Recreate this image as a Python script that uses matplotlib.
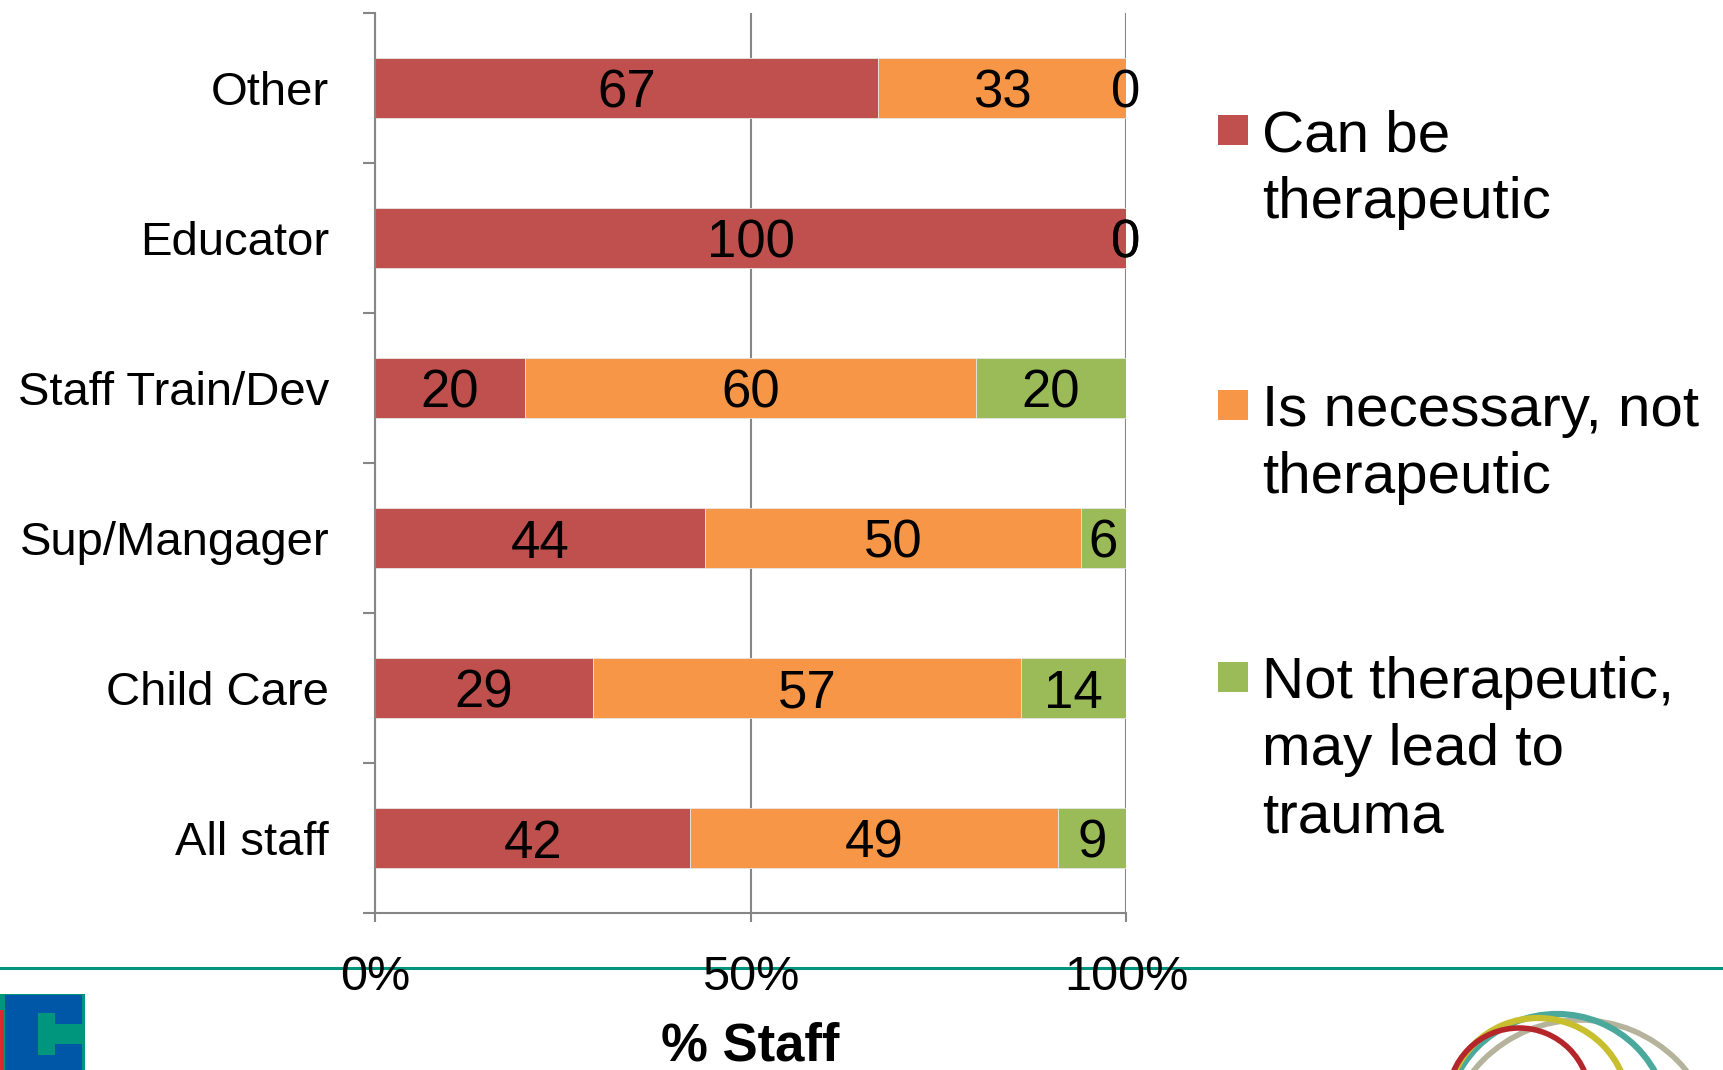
import numpy as np
import matplotlib.pyplot as plt
from matplotlib.patches import Rectangle, Arc

plt.rcParams['font.family'] = ['Liberation Sans', 'DejaVu Sans']

# data (top to bottom)
groups = ['Other', 'Educator', 'Staff Train/Dev', 'Sup/Mangager', 'Child Care', 'All staff']
can_be = [67, 100, 20, 44, 29, 42]
necessary = [33, 0, 60, 50, 57, 49]
not_ther = [0, 0, 20, 6, 14, 9]
series_names = ['Can be\ntherapeutic', 'Is necessary, not\ntherapeutic',
                'Not therapeutic,\nmay lead to\ntrauma']
colors = ['#C0504D', '#F79646', '#9BBB59']
xticks = [0, 50, 100]
xtick_labels = ['0%', '50%', '100%']

W, H = 1723, 1070
fig = plt.figure(figsize=(W / 100, H / 100), dpi=100)

# page decoration: green rule and logo bits, in pixel coords
deco = fig.add_axes([0, 0, 1, 1], zorder=-1)
deco.set_xlim(0, W)
deco.set_ylim(H, 0)
deco.axis('off')
deco.plot([0, W], [968, 968], color='#00937d', lw=2.2)
# left logo (cut off by the page edge)
deco.add_patch(Rectangle((0, 994), 85, 80, color='#00957d', lw=0))
deco.add_patch(Rectangle((5, 995), 77, 80, color='#0057a8', lw=0))
deco.add_patch(Rectangle((38, 1013), 17, 42, color='#00957d', lw=0))
deco.add_patch(Rectangle((55, 1024), 28, 20, color='#00957d', lw=0))
deco.add_patch(Rectangle((0, 1010), 4, 60, color='#e0262e', lw=0))
# right logo arcs
for cx, cy, r, c, lw in [(1580, 1157, 137, '#b5b39c', 4),
                         (1557, 1126, 112, '#4aa99c', 4.5),
                         (1538, 1109, 91, '#c8bf2e', 4.5),
                         (1519, 1099, 71, '#b5262b', 4)]:
    deco.add_patch(Arc((cx, cy), 2 * r, 2 * r, color=c, lw=lw))

ax = fig.add_axes([375 / W, 1 - 913 / H, (1126 - 375) / W, 900 / H])
ax.patch.set_alpha(0)

y = np.arange(len(groups))
left = np.zeros(len(groups))
for vals, name, col in zip([can_be, necessary, not_ther], series_names, colors):
    vals = np.array(vals)
    ax.barh(y, vals, left=left, height=0.4, color=col, edgecolor='#e6e6e6',
            lw=0.6, label=name, zorder=2)
    for yi, l, v in zip(y, left, vals):
        ax.text(l + v / 2, yi, str(v), ha='center', va='center_baseline',
                fontsize=38, color='black', zorder=3)
    left += vals

ax.set_xlim(0, 100)
ax.set_ylim(5.5, -0.5)
ax.set_xticks(xticks)
ax.set_xticklabels(xtick_labels, fontsize=35)
ax.set_yticks(y)
ax.set_yticklabels(groups, fontsize=34)
ax.set_yticks(np.arange(-0.5, 6, 1), minor=True)

grey = '#868686'
ax.grid(axis='x', color=grey, lw=1.5, zorder=0)
for s in ['top', 'right']:
    ax.spines[s].set_visible(False)
for s in ['left', 'bottom']:
    ax.spines[s].set_color(grey)
    ax.spines[s].set_linewidth(1.5)
ax.tick_params(axis='y', which='major', length=0, pad=33)
ax.tick_params(axis='y', which='minor', length=9, width=1.5, color=grey)
ax.tick_params(axis='x', length=6.5, width=1.5, color=grey, pad=24)
ax.set_xlabel('% Staff', fontsize=38, fontweight='bold', labelpad=15)

# legend drawn by hand so the swatch sits on the first text line
leg_tops = [115, 390, 662]
for name, col, top in zip(series_names, colors, leg_tops):
    deco.add_patch(Rectangle((1218, top), 30, 30, color=col, lw=0))
    deco.text(1262, top - 6, name, fontsize=42, va='top', ha='left',
              linespacing=1.32)

fig.savefig('out.png', dpi=100)
